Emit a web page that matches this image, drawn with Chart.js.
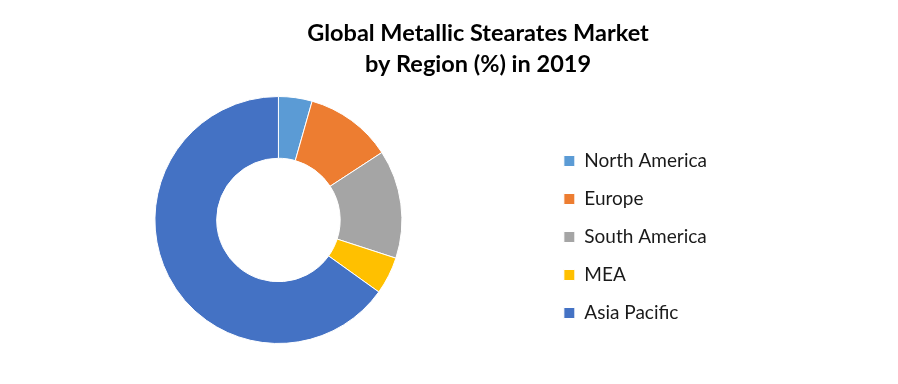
<!DOCTYPE html>
<html>
<head>
<meta charset="utf-8">
<script src="https://cdn.jsdelivr.net/npm/chart.js@4/dist/chart.umd.min.js"></script>
<style>
  html, body { margin: 0; padding: 0; background: #ffffff; }
  #wrap { position: relative; width: 898px; height: 384px; }
</style>
</head>
<body>
<div id="wrap"><canvas id="c" width="898" height="384"></canvas></div>
<script>
const titleLines = ["Global Metallic Stearates Market", "by Region (%) in 2019"];
const regions = ["North America", "Europe", "South America", "MEA", "Asia Pacific"];
const shares = [4.4, 11.4, 14.2, 4.9, 65.1];
const sliceColors = ["#5B9BD5", "#ED7D31", "#A5A5A5", "#FFC000", "#4472C4"];

const placePlugin = {
  id: 'placeBlocks',
  afterLayout(chart) {
    const t = chart.titleBlock;
    if (t) { t.left = 58; t.right = 898; t.width = t.right - t.left; }
    const lg = chart.legend;
    if (lg) { lg.top += 17; lg.bottom += 17; }
  }
};

new Chart(document.getElementById('c'), {
  type: 'doughnut',
  data: {
    labels: regions,
    datasets: [{
      data: shares,
      backgroundColor: sliceColors,
      borderColor: '#ffffff',
      borderWidth: 1,
      hoverOffset: 0
    }]
  },
  options: {
    responsive: false,
    animation: false,
    cutout: '50%',
    layout: { padding: { top: 0, left: 12, right: 181, bottom: 40 } },
    plugins: {
      title: {
        display: true,
        text: titleLines,
        color: '#000000',
        font: { family: 'Lato', size: 23.5, weight: 'bold', lineHeight: '31px' },
        padding: { top: 18, bottom: 16 }
      },
      legend: {
        position: 'right',
        fullSize: false,
        labels: {
          boxWidth: 11,
          boxHeight: 11,
          padding: 19,
          color: '#1a1a1a',
          font: { family: 'Lato', size: 19 }
        }
      },
      tooltip: { enabled: false }
    }
  },
  plugins: [placePlugin]
});
</script>
</body>
</html>
